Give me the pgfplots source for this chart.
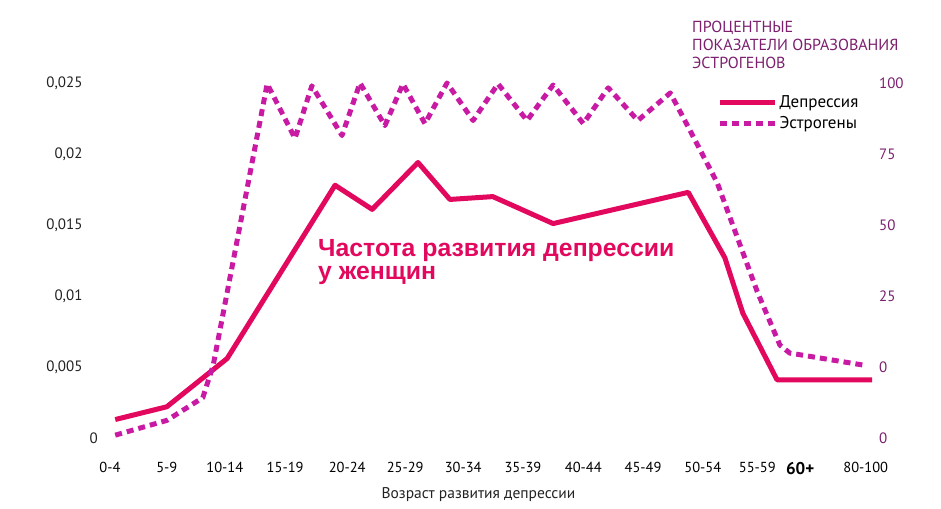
\documentclass[border=0pt]{standalone}
\usepackage{fontspec}
\setmainfont{PT Sans}
\newfontfamily\arialfont{Liberation Sans}
\usepackage{pgfplots}
\pgfplotsset{compat=1.18}

\definecolor{depr}{HTML}{E2085E}
\definecolor{estr}{HTML}{C81AA3}
\definecolor{purp}{HTML}{7B1F6E}
\definecolor{tickgray}{HTML}{222222}

\pgfplotsset{
  common/.style={
    scale only axis,
    width=794.6pt, height=355pt,
    xmin=-0.5, xmax=13.2,
    axis line style={draw=none},
    major tick length=0pt,
    scaled y ticks=false,
    clip=false,
  },
}

\begin{document}
\begin{tikzpicture}[x=1pt,y=1pt]
% page frame: 941 x 508, axis origin sits at (81,438) of the reference
\path[use as bounding box] (-81,-70) rectangle (860,438);

\begin{axis}[common,
    ymin=0, ymax=0.025,
    ytick={0,0.005,0.01,0.015,0.02,0.025},
    yticklabels={{0\kern-17pt},{0,005},{0,01},{0,015},{0,02},{0,025}},
    yticklabel style={font=\fontsize{15}{15}\selectfont, text=tickgray, xshift=5pt},
    xtick={0,0.98,1.98,3.02,4.09,5.09,6.09,7.12,8.16,9.19,10.22,11.16,11.9,13.03},
    xticklabels={0-4,5-9,10-14,15-19,20-24,25-29,30-34,35-39,40-44,45-49,50-54,55-59,
      {\fontsize{17}{17}\selectfont\bfseries 60+},80-100},
    xticklabel style={font=\fontsize{14.5}{14.5}\selectfont, text=black, yshift=-21pt},
  ]
  \addplot[depr, line width=5pt, line join=round] coordinates {
    (0.09,0.0013) (0.98,0.0022) (2.02,0.0056) (3.88,0.0178) (4.52,0.0161)
    (5.31,0.0194) (5.86,0.0168) (6.60,0.0170) (7.64,0.0151) (9.97,0.0173)
    (10.6,0.0127) (10.91,0.0088) (11.5,0.0041) (13.14,0.0041)
  };
\end{axis}

\begin{axis}[common,
    ymin=-25, ymax=100,
    xtick=\empty,
    ytick={-25,0,25,50,75,100},
    yticklabels={0,0,25,50,75,100},
    yticklabel pos=right,
    yticklabel style={font=\fontsize{15}{15}\selectfont, text=purp, anchor=west},
    legend cell align=left,
    legend image code/.code={\draw[#1] (0pt,0pt) -- (55pt,0pt);},
    legend style={draw=none, fill=none, at={(0.801,0.97)}, anchor=north west,
      font=\fontsize{17}{17}\selectfont, row sep=3pt, inner sep=0pt,
      nodes={inner sep=2pt}},
  ]
  \addlegendimage{depr, line width=5pt}
  \addlegendentry{Депрессия}
  \addplot[estr, line width=5pt, dash pattern=on 7pt off 5pt, line join=round] coordinates {
    (0.09,-24) (0.98,-18.8) (1.60,-10.8) (1.78,0.7) (2.71,99.7) (3.19,80.5)
    (3.48,99) (4.0,81.5) (4.31,100) (4.74,85) (5.05,99.7) (5.43,85.7)
    (5.81,100) (6.26,86.8) (6.69,99.7) (7.19,86.8) (7.64,99.3) (8.16,85.7)
    (8.59,98.3) (9.10,86.8) (9.66,96.5) (10.0,83.3) (10.47,64.8) (11.16,26.5)
    (11.55,7.7) (11.72,4.9) (12.98,0.7)
  };
  \addlegendentry{Эстрогены}
\end{axis}

% overlay texts, placed in reference pixels: (px-81, 438-py)
\node[anchor=base west, inner sep=0pt, text=depr,
  font=\arialfont\bfseries\fontsize{24.8}{24.8}\selectfont] at (237,181) {Частота развития депрессии};
\node[anchor=base west, inner sep=0pt, text=depr,
  font=\arialfont\bfseries\fontsize{24.8}{24.8}\selectfont] at (237,158) {у женщин};

\node[anchor=base west, inner sep=0pt, text=purp, font=\fontsize{16}{16}\selectfont] at (611,405) {ПРОЦЕНТНЫЕ};
\node[anchor=base west, inner sep=0pt, text=purp, font=\fontsize{16}{16}\selectfont] at (611,387) {ПОКАЗАТЕЛИ ОБРАЗОВАНИЯ};
\node[anchor=base west, inner sep=0pt, text=purp, font=\fontsize{16}{16}\selectfont] at (611,369) {ЭСТРОГЕНОВ};

\node[anchor=base, inner sep=0pt, text=tickgray, font=\fontsize{15.5}{15.5}\selectfont] at (397.5,-60) {Возраст развития депрессии};
\end{tikzpicture}
\end{document}
